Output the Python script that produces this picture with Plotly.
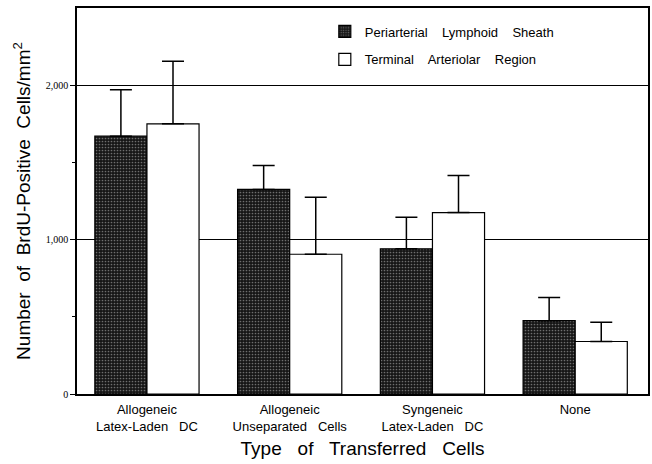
import plotly.graph_objects as go

categories = ["Allogeneic<br>Latex-Laden\u00a0\u00a0 DC",
              "Allogeneic<br>Unseparated\u00a0\u00a0 Cells",
              "Syngeneic<br>Latex-Laden\u00a0\u00a0 DC",
              "None"]
pals_values = [1670, 1325, 940, 475]
pals_errors = [300, 155, 205, 150]
tar_values = [1750, 905, 1175, 340]
tar_errors = [405, 370, 240, 125]
ytick_vals = [0, 1000, 2000]
ytick_text = ["0", "1,000", "2,000"]
minor_vals = [500, 1500]

sp = "\u00a0\u00a0\u00a0 "
x = list(range(len(categories)))

fig = go.Figure()
fig.add_trace(go.Bar(
    x=x, y=pals_values, name=f"Periarterial{sp}Lymphoid{sp}Sheath",
    legendgroup="a",
    marker=dict(color="#222222", line=dict(color="black", width=1.2),
                pattern=dict(shape=".", fgcolor="#6e6e6e", bgcolor="#161616",
                             size=3, solidity=0.25, fillmode="replace")),
    error_y=dict(type="data", symmetric=False, array=pals_errors,
                 arrayminus=[0] * 4, color="black", thickness=1.5, width=11),
))
fig.add_trace(go.Bar(
    x=x, y=tar_values, name=f"Terminal{sp}Arteriolar{sp}Region",
    legendgroup="b",
    marker=dict(color="white", line=dict(color="black", width=1.2)),
    error_y=dict(type="data", symmetric=False, array=tar_errors,
                 arrayminus=[0] * 4, color="black", thickness=1.5, width=11),
))

fig.update_layout(
    width=652, height=464,
    margin=dict(l=77, r=4, t=8, b=70),
    paper_bgcolor="white", plot_bgcolor="white",
    barmode="group", bargap=0.27, bargroupgap=0,
    font=dict(family="Liberation Sans, Arial, sans-serif", color="black"),
    showlegend=True,
    legend=dict(x=0.434, y=0.978, xanchor="left", yanchor="top",
                font=dict(size=13), bgcolor="rgba(0,0,0,0)",
                tracegroupgap=8, traceorder="grouped"),
    xaxis=dict(
        range=[-0.49, 3.51], tickvals=x, ticktext=categories,
        tickfont=dict(size=13), ticks="", showline=True, mirror=True,
        linecolor="black", linewidth=1.5, showgrid=False, zeroline=False,
        automargin=False, ticklabelstandoff=3,
        title=dict(text="Type\u00a0\u00a0 of\u00a0\u00a0 Transferred\u00a0\u00a0 Cells",
                   font=dict(size=19), standoff=8),
    ),
    yaxis=dict(
        range=[0, 2500], tickvals=ytick_vals, ticktext=ytick_text,
        tickfont=dict(size=10, family="Liberation Serif, Times New Roman, serif"),
        ticks="outside", ticklen=5, tickwidth=1.2, tickcolor="black",
        showline=True, mirror=True, linecolor="black", linewidth=1.5,
        showgrid=True, gridcolor="black", gridwidth=1.2, zeroline=False,
        automargin=False,
        minor=dict(tickvals=minor_vals, ticks="outside", ticklen=3,
                   tickcolor="black", showgrid=False),
        title=dict(text="Number\u00a0 of\u00a0 BrdU-Positive\u00a0 Cells/mm<sup>2</sup>",
                   font=dict(size=19), standoff=10),
    ),
)

fig.write_html(
    "out.html",
    config={"displayModeBar": False},
    post_script="document.body.style.margin='0';document.body.style.overflow='hidden';",
)
